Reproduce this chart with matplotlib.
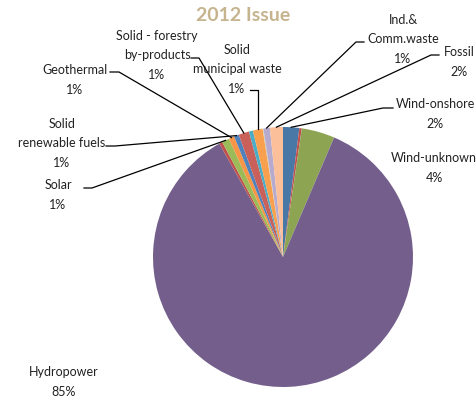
import numpy as np
from matplotlib import pyplot as plt

plt.rcParams['font.family'] = ['Lato', 'DejaVu Sans']

# slices, clockwise from 12 o'clock (values in %)
names = ['Wind-onshore', '', 'Wind-unknown', 'Hydropower', '', 'Solar',
         'Geothermal', 'Solid\nrenewable fuels', 'Solid - forestry\nby-products', '',
         'Solid\nmunicipal waste', '', 'Ind.&\nComm.waste', 'Fossil']
values = [2.0, 0.3, 4.1, 85.0, 0.4, 0.9, 0.7, 0.6, 1.3, 0.5, 1.2, 0.1, 0.8, 1.6]
colors = ['#4A78A6', '#C0504D', '#8DA553', '#745F8C', '#C0504D', '#9BBB59',
          '#F79646', '#4F81BD', '#C9605A', '#4BACC6', '#F9A04E', '#D8CDA8',
          '#B7AACF', '#FBBF9A']

W, H = 477, 401
CX, CY, R = 283, 257, 130


def px(x, y):
    # pixel position -> data coords (pie radius 1)
    return (x - CX) / R, (CY - y) / R


# label layout: text centre, leader start, elbow
layout = {
    'Wind-onshore': dict(text=(435, 114), start=(393, 108), elbow=(383, 108)),
    'Wind-unknown': dict(text=(434, 168), start=None, elbow=None),
    'Hydropower': dict(text=(64, 382), start=None, elbow=None),
    'Solar': dict(text=(58, 195), start=(84, 188), elbow=(92, 188)),
    'Geothermal': dict(text=(75, 80), start=(110, 72), elbow=(119, 72)),
    'Solid\nrenewable fuels': dict(text=(62, 143), start=(106, 146), elbow=(115, 146)),
    'Solid - forestry\nby-products': dict(text=(157, 55), start=(191, 58), elbow=(199, 58)),
    'Solid\nmunicipal waste': dict(text=(237, 69), start=(250, 90), elbow=None),
    'Ind.&\nComm.waste': dict(text=(403, 39), start=(364, 42), elbow=(356, 42)),
    'Fossil': dict(text=(459, 62), start=(439, 55), elbow=(431, 55)),
}

fig = plt.figure(figsize=(W / 100, H / 100), dpi=100)
ax = fig.add_axes([0, 0, 1, 1])

ax.pie(values, colors=colors, startangle=90, counterclock=False,
       wedgeprops=dict(linewidth=0))
ax.set_xlim(-CX / R, (W - CX) / R)
ax.set_ylim((CY - H) / R, CY / R)
ax.set_aspect('equal')
ax.axis('off')

total = sum(values)
cum = 0.0
for name, v in zip(names, values):
    mid = np.deg2rad(90 - 360 * (cum + v / 2) / total)
    cum += v
    if not name:
        continue
    lay = layout[name]
    pct = '%d%%' % round(v / total * 100)
    tx, ty = px(*lay['text'])
    ax.text(tx, ty, name + '\n' + pct, ha='center', va='center', fontsize=9,
            color='#222222', linespacing=1.75)
    if lay['start'] is not None:
        ex, ey = np.cos(mid), np.sin(mid)
        sx, sy = px(*lay['start'])
        if lay['elbow'] is not None:
            bx, by = px(*lay['elbow'])
        else:
            bx, by = ex, sy
        ax.plot([sx, bx, ex], [sy, by, ey], color='black', lw=0.9, zorder=5)

tx, ty = px(243, 15)
ax.text(tx, ty, '2012 Issue', ha='center', va='center', fontsize=14,
        fontweight='bold', color='#C6B48E')

fig.savefig('out.png', dpi=100)
